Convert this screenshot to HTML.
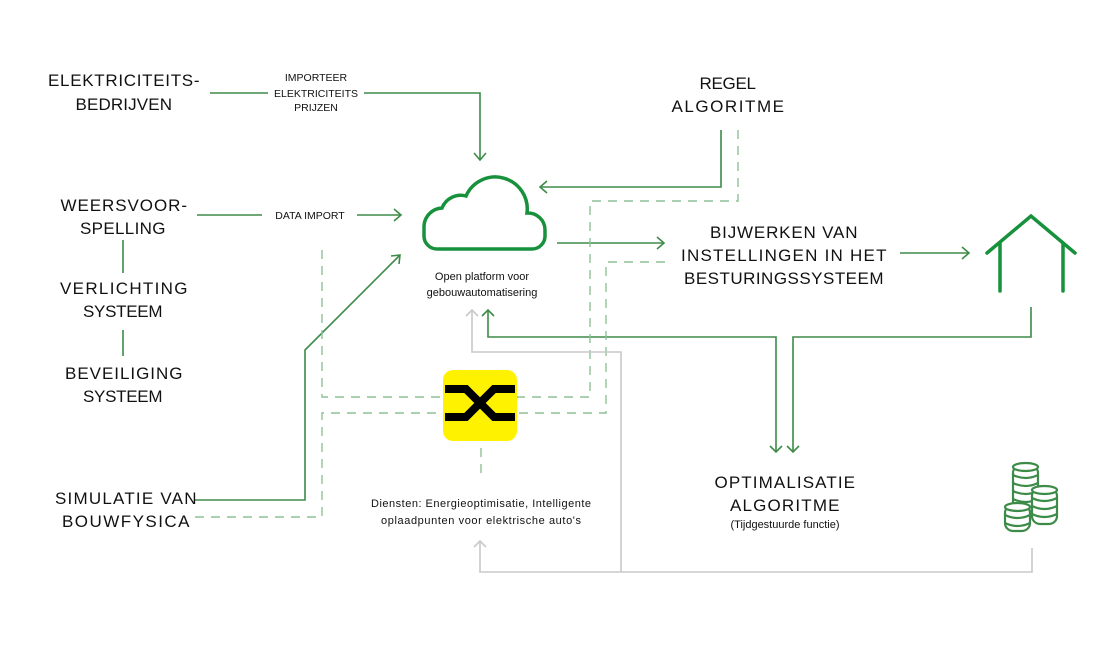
<!DOCTYPE html>
<html><head><meta charset="utf-8"><style>
html,body{margin:0;padding:0;background:#fff;}
svg{display:block;}
.t{font-family:"Liberation Sans",sans-serif;font-size:17px;fill:#111;letter-spacing:0.5px;}
.s{font-family:"Liberation Sans",sans-serif;font-size:10.5px;fill:#111;}
.m{font-family:"Liberation Sans",sans-serif;font-size:11px;fill:#111;}
</style></head><body>
<svg width="1118" height="646" viewBox="0 0 1118 646" xmlns="http://www.w3.org/2000/svg">
<g fill="none" stroke="#3d8b48" stroke-width="1.6">
<!-- elektriciteit -->
<path d="M210 93H268M364 93H480V160"/>
<path d="M474 153L480 160L486 153"/>
<!-- weer -->
<path d="M197 215H262M357 215H400"/>
<path d="M394 209L401 215L394 221"/>
<!-- regel -->
<path d="M721 130V187H540"/>
<path d="M547 181L540 187L547 193"/>
<!-- cloud to bijwerken -->
<path d="M557 243H664"/>
<path d="M657 237L664 243L657 249"/>
<!-- bijwerken to house -->
<path d="M900 253H969"/>
<path d="M962 247L969 253L962 259"/>
<!-- simulatie diagonal -->
<path d="M195 500H305V350L400 255"/>
<path d="M391 256L400 255L399 264"/>
<!-- to optimalisatie -->
<path d="M488 310V337H776V452"/>
<path d="M482 316L488 310L494 316"/>
<path d="M770 446L776 452L782 446"/>
<path d="M1031 307V337H793V452"/>
<path d="M787 446L793 452L799 446"/>
</g>
<!-- dashed -->
<g fill="none" stroke="#8fc197" stroke-width="1.4" stroke-dasharray="9,7">
<path d="M738 130V201H590V397H517"/>
<path d="M665 262H606V413H517"/>
<path d="M322 250V397H443"/>
<path d="M195 517H322V413H443"/>
<path d="M481 448V478"/>
</g>
<!-- gray -->
<g fill="none" stroke="#c8c8c8" stroke-width="1.6">
<path d="M472 310V352H621V572"/>
<path d="M466 316L472 310L478 316"/>
<path d="M480 541V572H1032V548"/>
<path d="M474 547L480 541L486 547"/>
</g>
<g stroke="#3d8b48" stroke-width="1.6"><line x1="123" y1="240" x2="123" y2="273"/><line x1="123" y1="330" x2="123" y2="356"/></g>
<!-- cloud -->
<path d="M437 249H532A13 13 0 0 0 545 236V230A17 17 0 0 0 527 213A32 32 0 0 0 466 196A20 20 0 0 0 442 208A19 19 0 0 0 424 226V236A13 13 0 0 0 437 249Z" fill="none" stroke="#17913b" stroke-width="3.5"/>
<!-- house -->
<g fill="none" stroke="#17913b" stroke-width="3.5" stroke-linecap="round">
<path d="M987 253L1031 216L1075 253"/>
<path d="M1000 243V291M1063 243V291"/>
</g>
<!-- yellow icon -->
<rect x="443" y="370" width="74" height="71" rx="10" fill="#fff200"/>
<g fill="none" stroke="#000" stroke-width="8">
<path d="M445 389H466L494 417H515"/>
<path d="M445 417H466L494 389H515"/>
</g>
<!-- coins -->
<g fill="#fff" stroke="#3d8b48" stroke-width="2.2">
<g id="c1">
<rect x="1013" y="465" width="25" height="46" rx="8"/>
<ellipse cx="1025.5" cy="467" rx="12.5" ry="4"/>
<path d="M1013 475q12.5 6 25 0M1013 483q12.5 6 25 0M1013 491q12.5 6 25 0M1013 499q12.5 6 25 0"/>
</g>
<rect x="1032" y="488" width="25" height="36" rx="8"/>
<ellipse cx="1044.5" cy="490" rx="12.5" ry="4"/>
<path fill="none" d="M1032 498q12.5 6 25 0M1032 506q12.5 6 25 0M1032 514q12.5 6 25 0"/>
<rect x="1005" y="505" width="25" height="26" rx="8"/>
<ellipse cx="1017.5" cy="507" rx="12.5" ry="4"/>
<path fill="none" d="M1005 515q12.5 6 25 0M1005 523q12.5 6 25 0"/>
</g>
<!-- texts -->
<g class="t" text-anchor="middle">
<text x="124" y="86" textLength="152">ELEKTRICITEITS-</text>
<text x="124" y="110" textLength="97">BEDRIJVEN</text>
<text x="124" y="211" textLength="127">WEERSVOOR-</text>
<text x="123" y="234" textLength="86">SPELLING</text>
<text x="124" y="294" textLength="128">VERLICHTING</text>
<text x="123" y="317" textLength="80">SYSTEEM</text>
<text x="124" y="379" textLength="118">BEVEILIGING</text>
<text x="123" y="402" textLength="80">SYSTEEM</text>
<text x="126" y="504" textLength="142">SIMULATIE VAN</text>
<text x="126" y="527" textLength="128">BOUWFYSICA</text>
<text x="728" y="89" textLength="57">REGEL</text>
<text x="728" y="112" textLength="113">ALGORITME</text>
<text x="784" y="238" textLength="148">BIJWERKEN VAN</text>
<text x="784" y="261" textLength="206">INSTELLINGEN IN HET</text>
<text x="784" y="284" textLength="200">BESTURINGSSYSTEEM</text>
<text x="785" y="488" textLength="141">OPTIMALISATIE</text>
<text x="785" y="511" textLength="110">ALGORITME</text>
</g>
<g class="s" text-anchor="middle">
<text x="316" y="81">IMPORTEER</text>
<text x="316" y="97">ELEKTRICITEITS</text>
<text x="316" y="111">PRIJZEN</text>
<text x="310" y="219">DATA IMPORT</text>
</g>
<g class="m" text-anchor="middle">
<text x="482" y="280">Open platform voor</text>
<text x="482" y="296">gebouwautomatisering</text>
<text x="481" y="507" textLength="220">Diensten: Energieoptimisatie, Intelligente</text>
<text x="481" y="524" textLength="200">oplaadpunten voor elektrische auto's</text>
<text x="785" y="528">(Tijdgestuurde functie)</text>
</g>
</svg>
</body></html>
